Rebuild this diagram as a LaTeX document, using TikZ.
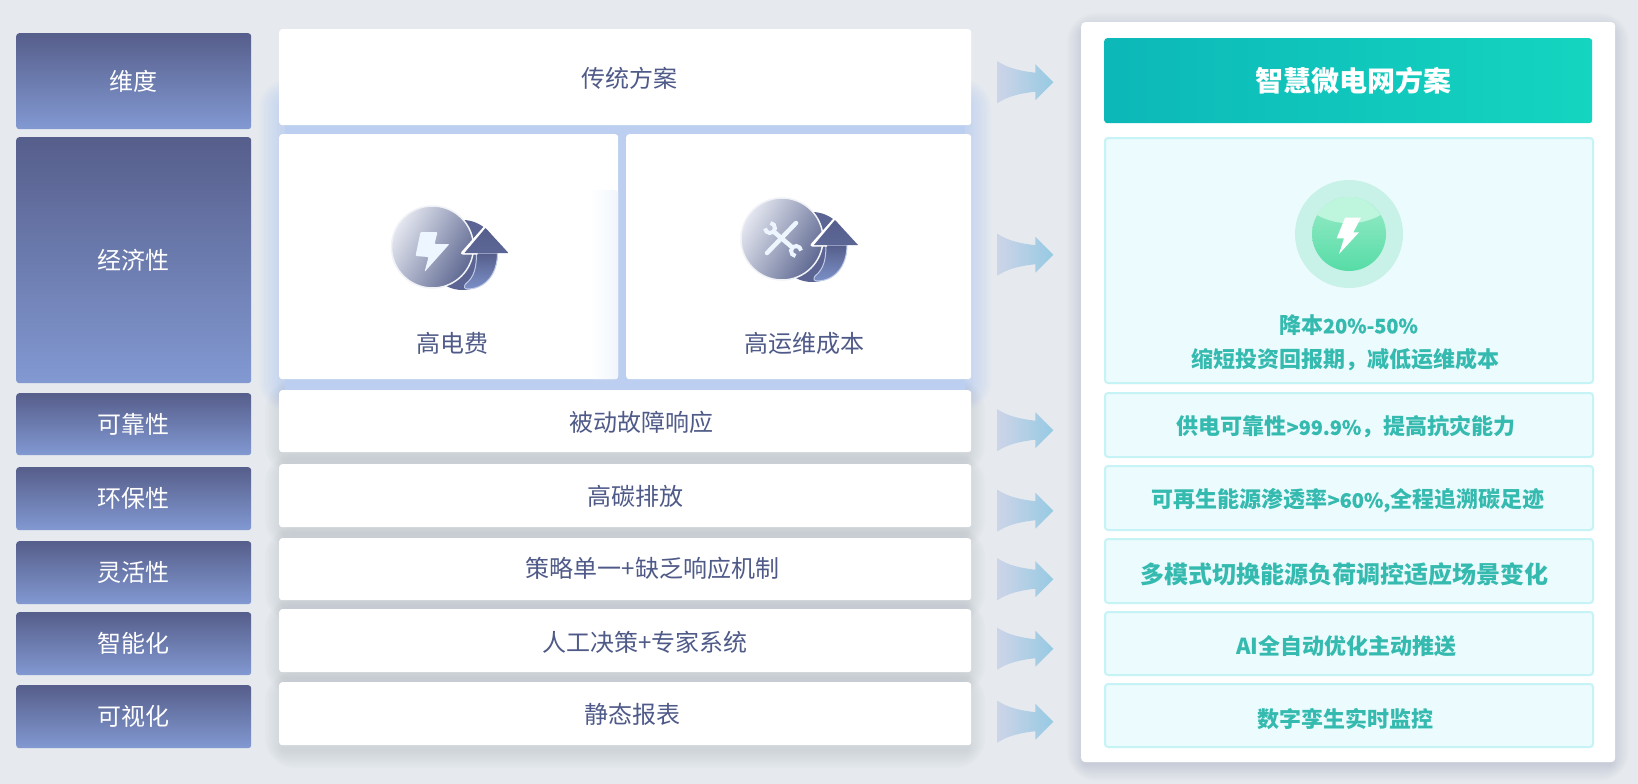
\documentclass[tikz,border=0pt]{standalone}
\usepackage{fontspec}
\setmainfont{Noto Sans CJK SC}
\newfontfamily\latinpart[FakeBold=0.3,Scale=0.9]{Noto Sans CJK SC}
\usetikzlibrary{calc}
\definecolor{pagebg}{HTML}{E6EAEE}
\definecolor{navytop}{HTML}{565E8B}
\definecolor{navybot}{HTML}{8299D2}
\definecolor{midtext}{HTML}{4F5A88}
\definecolor{tealtext}{HTML}{35BAB0}
\definecolor{cellfill}{HTML}{ECFBFD}
\definecolor{celledge}{HTML}{C6F3F5}
\definecolor{glowblue}{HTML}{A9C3EE}
\definecolor{gapblue}{HTML}{BCCFF0}
\definecolor{glowgray}{HTML}{8C92AC}
\definecolor{heada}{HTML}{0CB8B8}
\definecolor{headb}{HTML}{14D5C0}
\definecolor{arrowa}{HTML}{CDD4E8}
\definecolor{arrowb}{HTML}{96CAE3}
\definecolor{iconpale}{HTML}{EDF5FE}
\definecolor{discpale}{HTML}{E4E7F0}
\definecolor{discdark}{HTML}{5F6992}
\definecolor{ringgreen}{HTML}{C8F1E8}
\definecolor{ballhigh}{HTML}{9AEBC8}
\definecolor{balllow}{HTML}{56DCA6}
\definecolor{ballcap}{HTML}{BDF5DD}
\tikzset{
    dimbox/.style={rounded corners=3pt, text=white, font=\fontsize{24}{28}\selectfont,
        top color=navytop, bottom color=navybot, inner sep=0pt},
    midbox/.style={rounded corners=3pt, fill=white, inner sep=0pt},
    cellbox/.style={rounded corners=3pt, fill=cellfill, draw=celledge, line width=2pt, inner sep=0pt},
    midtxt/.style={text=midtext, font=\fontsize{24}{28}\selectfont},
    celltxt/.style={text=tealtext, font=\fontsize{22}{28}\selectfont\bfseries},
}
% node from two corners, in pixels of the reference
\newcommand{\boxnode}[6]{\node[#1, minimum width=#5-#3, minimum height=#6-#4, anchor=north west] (#2) at (#3,#4)}
% soft shadow made from stacked rectangles
\newcommand{\softshadow}[7]{%
  \foreach \k in {1,...,10}{
    \fill[#5, opacity=#6, rounded corners=\k*3pt]
      ($(#1,#2)-(\k*#7,\k*#7-5)$) rectangle ($(#3,#4)+(\k*#7,\k*#7+5)$);
  }}
\tikzset{
  pics/uparrow/.style={code={
    \fill[navytop!90!navybot] (30,8) circle (35);
    \shade[top color=navytop, bottom color=navybot!85!navytop, draw=navybot!50!white, line width=1pt]
      (44,6) .. controls (44,20) and (42,30) .. (33,37) .. controls (31,40) and (32,42) .. (35,42)
      .. controls (52,42) and (65,28) .. (65,6) -- cycle;
    \shade[top color=discpale, bottom color=discdark, shading angle=60, draw=white!92!navytop, line width=1.5pt]
      (0,0) circle (41);
    \draw[white, line width=3pt, line join=round] (45,6) -- (30,6) -- (53,-20);
    \shade[top color=navytop, bottom color=navytop!85!navybot] (53,-19) -- (76,6) -- (32,6) -- cycle;
  }},
  pics/boltmark/.style={code={
    \fill[iconpale, rounded corners=1pt] (-12,-15) -- (5,-15) -- (2,-3) -- (17,-3) -- (-8,25) -- (-4,10) -- (-17,9) -- cycle;
  }},
  pics/toolmark/.style={code={
    \draw[iconpale, line width=4.5pt, line cap=round] (-15,14) -- (14,-16);
    \draw[iconpale, line width=4.5pt] (-9,-8) -- (11,9);
    \draw[iconpale, line width=4pt] (-12,-11) ++(275:5) arc (275:535:5);
    \draw[iconpale, line width=4pt] (14,12) ++(95:5) arc (95:355:5);
  }},
  pics/greenbolt/.style={code={
    \fill[ringgreen] (0,0) circle (54);
    \shade[top color=ballhigh, bottom color=balllow] (0,0) circle (37);
    \fill[ballcap] (-32,-19) arc (210.7:329.3:37) .. controls (12,-8) and (-12,-8) .. cycle;
    \fill[white] (-4,-16.3) -- (12,-16.3) -- (4.3,-1.7) -- (10,-1.7) -- (-10,20) -- (-5,4.3) -- (-12.3,4.3) -- cycle;
  }},
  pics/flowarrow/.style={code={
    \shade[left color=arrowa, right color=arrowb]
      (0,-21) .. controls (10,-14) and (24,-11) .. (38,-9.5) -- (38,-18) -- (56,0) -- (38,18) -- (38,9.5)
      .. controls (24,11) and (10,14) .. (0,21) -- cycle;
  }},
}
\begin{document}
\begin{tikzpicture}[x=1pt,y=-1pt]
    \path[use as bounding box, fill=pagebg] (0,0) rectangle (1638,784);

    % glow behind the middle column
    \softshadow{285}{100}{965}{380}{glowblue}{0.065}{2.6}
    \softshadow{283}{392}{967}{452}{glowgray}{0.022}{1.8}
    \softshadow{283}{466}{967}{527}{glowgray}{0.022}{1.8}
    \softshadow{283}{540}{967}{600}{glowgray}{0.022}{1.8}
    \softshadow{283}{611}{967}{672}{glowgray}{0.022}{1.8}
    \softshadow{283}{684}{967}{745}{glowgray}{0.022}{1.8}
    \softshadow{1085}{26}{1611}{758}{glowgray}{0.03}{1.8}
    \fill[gapblue] (285,120) rectangle (965,135);
    \fill[gapblue] (285,375) rectangle (965,391);
    \fill[gapblue] (612,130) rectangle (632,380);

    % dimensions
    \boxnode{dimbox}{dimA}{16}{33}{251}{129} {维度};
    \boxnode{dimbox}{dimB}{16}{137}{251}{383} {经济性};
    \boxnode{dimbox}{dimC}{16}{393}{251}{455} {可靠性};
    \boxnode{dimbox}{dimD}{16}{467}{251}{530} {环保性};
    \boxnode{dimbox}{dimE}{16}{541}{251}{604} {灵活性};
    \boxnode{dimbox}{dimF}{16}{612}{251}{675} {智能化};
    \boxnode{dimbox}{dimG}{16}{685}{251}{748} {可视化};

    % traditional column
    \boxnode{midbox}{midA}{279}{29}{971}{125} {};
    \boxnode{midbox}{midBa}{279}{134}{618}{379} {};
    \boxnode{midbox}{midBb}{626}{134}{971}{379} {};
    \boxnode{midbox}{midC}{279}{390}{971}{452} {};
    \boxnode{midbox}{midD}{279}{464}{971}{527} {};
    \boxnode{midbox}{midE}{279}{538}{971}{600} {};
    \boxnode{midbox}{midF}{279}{609}{971}{672} {};
    \boxnode{midbox}{midG}{279}{682}{971}{745} {};
    \shade[left color=white, right color=glowblue!16!white, rounded corners=3pt] (590,190) rectangle (618,379);
    \node[midtxt] (textA) at (629.4,78) {传统方案};
    \node[midtxt] (costA) at (452,343) {高电费};
    \node[midtxt] (costB) at (804,343) {高运维成本};
    \node[midtxt] (textC) at (641,422) {被动故障响应};
    \node[midtxt] (textD) at (635.7,496.5) {高碳排放};
    \node[midtxt] (textE) at (652.4,568) {策略单一+缺乏响应机制};
    \node[midtxt] (textF) at (645,642.5) {人工决策+专家系统};
    \node[midtxt] (textG) at (632.5,714.5) {静态报表};
    \pic at (432.5,247) {uparrow};
    \pic at (432.5,247) {boltmark};
    \pic at (782,239) {uparrow};
    \pic at (782,239) {toolmark};

    % solution panel
    \node[fill=white, rounded corners=4pt, minimum width=534, minimum height=740, anchor=north west, inner sep=0pt] (panel) at (1081,22) {};
    \boxnode{rounded corners=3pt, left color=heada, right color=headb}{head}{1104}{38}{1592}{123} {};
    \boxnode{cellbox}{cellB}{1104}{137}{1592}{382} {};
    \boxnode{cellbox}{cellC}{1104}{392}{1592}{456} {};
    \boxnode{cellbox}{cellD}{1104}{465}{1592}{529} {};
    \boxnode{cellbox}{cellE}{1104}{538}{1592}{602} {};
    \boxnode{cellbox}{cellF}{1104}{611}{1592}{674} {};
    \boxnode{cellbox}{cellG}{1104}{683}{1592}{746} {};
    \node[text=white, font=\fontsize{28}{32}\selectfont\bfseries] (headtxt) at (1353,80.5) {智慧微电网方案};
    \pic at (1349,234) {greenbolt};
    \node[celltxt] (saveA) at (1348.5,325) {降本{\latinpart 20\%-50\%}};
    \node[celltxt] (saveB) at (1345.5,360) {缩短投资回报期，减低运维成本};
    \node[celltxt] (solC) at (1346,427) {供电可靠性{\latinpart >99.9\%}，提高抗灾能力};
    \node[celltxt] (solD) at (1348,500.4) {可再生能源渗透率{\latinpart >60\%,}全程追溯碳足迹};
    \node[celltxt, font=\fontsize{24}{28}\selectfont\bfseries] (solE) at (1344,574.5) {多模式切换能源负荷调控适应场景变化};
    \node[celltxt] (solF) at (1346.5,646.6) {AI全自动优化主动推送};
    \node[celltxt] (solG) at (1345.5,718.7) {数字孪生实时监控};

    % arrows between the columns
    \foreach \src/\dy in {midA/5,midBb/-2,midC/9,midD/15,midE/10,midF/8,midG/8}
        \pic at ($(\src.east)+(26,\dy)$) {flowarrow};
\end{tikzpicture}
\end{document}
